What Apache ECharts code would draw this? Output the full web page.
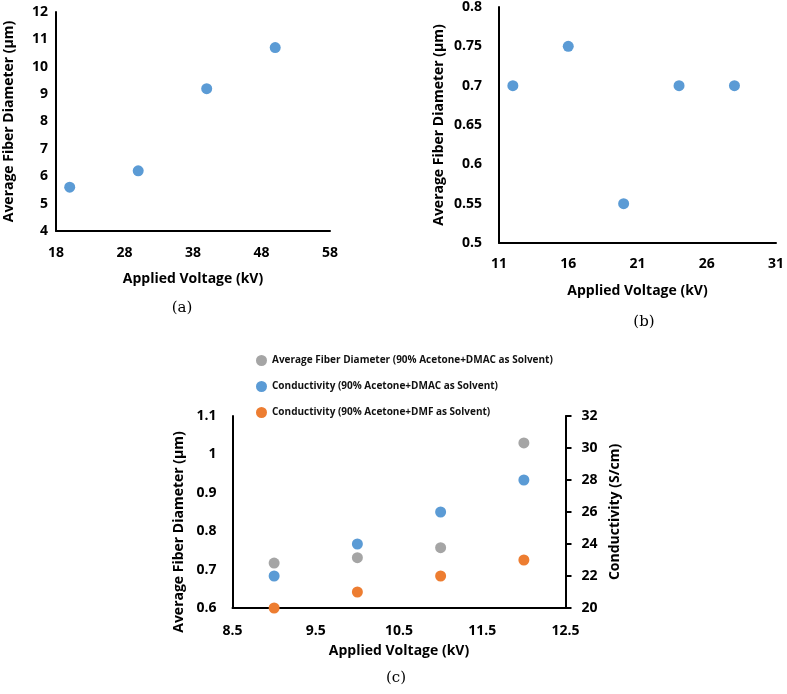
<!DOCTYPE html>
<html>
<head>
<meta charset="utf-8">
<script src="https://cdn.jsdelivr.net/npm/echarts@6/dist/echarts.min.js"></script>
<style>
html,body{margin:0;padding:0;background:#fff;}
#chart{width:787px;height:694px;}
</style>
</head>
<body>
<div id="chart"></div>
<script>
// ---- Data ----
// (a)
var voltageA = [20, 30, 40, 50];
var diameterA = [5.6, 6.2, 9.2, 10.7];
var xTicksA = [18, 28, 38, 48, 58];
// (b)
var voltageB = [12, 16, 20, 24, 28];
var diameterB = [0.7, 0.75, 0.55, 0.7, 0.7];
var xTicksB = [11, 16, 21, 26, 31];
var yTicksB = [0.5, 0.55, 0.6, 0.65, 0.7, 0.75, 0.8];
// (c)
var voltageC = [9, 10, 11, 12];
var diameterDMAC = [0.717, 0.731, 0.757, 1.03];
var conductDMAC = [22, 24, 26, 28];
var conductDMF = [20, 21, 22, 23];
var xTicksC = [8.5, 9.5, 10.5, 11.5, 12.5];
var yTicksCLeft = [0.6, 0.7, 0.8, 0.9, 1, 1.1];
var seriesNamesC = [
  'Average Fiber Diameter (90% Acetone+DMAC as Solvent)',
  'Conductivity (90% Acetone+DMAC as Solvent)',
  'Conductivity (90% Acetone+DMF as Solvent)'
];
var xTitle = 'Applied Voltage (kV)';
var yTitleDiam = 'Average Fiber Diameter (\u03bcm)';
var yTitleCond = 'Conductivity (S/cm)';

function pairs(xs, ys) { return xs.map(function (x, i) { return [x, ys[i]]; }); }

var FONT = '"Open Sans"';
var BLUE = '#5B9BD5', GRAY = '#A5A5A5', ORANGE = '#ED7D31';
var lineStyle = { color: '#000', width: 2 };
var lbl = { color: '#000', fontWeight: 'bold', fontSize: 14, fontFamily: FONT };
var nameStyle = { color: '#000', fontWeight: 'bold', fontSize: 14, fontFamily: FONT };

function fmt(v) { return String(Math.round(v * 1000) / 1000); }

var chart = echarts.init(document.getElementById('chart'));
chart.setOption({
  animation: false,
  backgroundColor: '#fff',
  grid: [
    { left: 56, top: 12, width: 274, height: 219 },
    { left: 499, top: 6, width: 278, height: 237 },
    { left: 232.5, top: 416, width: 333, height: 192 }
  ],
  legend: {
    data: seriesNamesC,
    orient: 'vertical',
    left: 251, top: 350,
    icon: 'circle',
    itemWidth: 11, itemHeight: 11,
    itemGap: 15,
    textStyle: { color: '#111', fontWeight: 'bold', fontSize: 10, fontFamily: FONT }
  },
  xAxis: [
    { gridIndex: 0, type: 'value', min: 18, max: 58,
      axisLine: { lineStyle: lineStyle }, axisTick: { show: false }, splitLine: { show: false },
      axisLabel: Object.assign({ margin: 15, customValues: xTicksA, formatter: fmt }, lbl),
      name: xTitle, nameLocation: 'middle', nameGap: 41, nameTextStyle: nameStyle },
    { gridIndex: 1, type: 'value', min: 11, max: 31,
      axisLine: { lineStyle: lineStyle }, axisTick: { show: false }, splitLine: { show: false },
      axisLabel: Object.assign({ margin: 14, customValues: xTicksB, formatter: fmt }, lbl),
      name: xTitle, nameLocation: 'middle', nameGap: 41, nameTextStyle: nameStyle },
    { gridIndex: 2, type: 'value', min: 8.5, max: 12.5,
      axisLine: { lineStyle: lineStyle }, axisTick: { show: false }, splitLine: { show: false },
      axisLabel: Object.assign({ margin: 16, customValues: xTicksC, formatter: fmt }, lbl),
      name: xTitle, nameLocation: 'middle', nameGap: 36, nameTextStyle: nameStyle }
  ],
  yAxis: [
    { gridIndex: 0, type: 'value', min: 4, max: 12, interval: 1,
      axisLine: { show: true, lineStyle: lineStyle }, axisTick: { show: false }, splitLine: { show: false },
      axisLabel: Object.assign({ margin: 8, formatter: fmt }, lbl),
      name: yTitleDiam, nameLocation: 'middle', nameGap: 40, nameTextStyle: nameStyle },
    { gridIndex: 1, type: 'value', min: 0.5, max: 0.8,
      axisLine: { show: true, lineStyle: lineStyle }, axisTick: { show: false }, splitLine: { show: false },
      axisLabel: Object.assign({ margin: 17, customValues: yTicksB, formatter: fmt }, lbl),
      name: yTitleDiam, nameLocation: 'middle', nameGap: 53, nameTextStyle: nameStyle },
    { gridIndex: 2, type: 'value', min: 0.6, max: 1.1, position: 'left',
      axisLine: { show: true, lineStyle: lineStyle }, axisTick: { show: false }, splitLine: { show: false },
      axisLabel: Object.assign({ margin: 16, customValues: yTicksCLeft, formatter: fmt }, lbl),
      name: yTitleDiam, nameLocation: 'middle', nameGap: 46,
      nameTextStyle: Object.assign({ padding: [0, 40, 0, 0] }, nameStyle) },
    { gridIndex: 2, type: 'value', min: 20, max: 32, interval: 2, position: 'right',
      axisLine: { show: true, lineStyle: lineStyle },
      axisTick: { show: true, inside: false, length: 6, lineStyle: { color: '#000', width: 2 } },
      splitLine: { show: false },
      axisLabel: Object.assign({ margin: 16, formatter: fmt }, lbl),
      name: yTitleCond, nameLocation: 'middle', nameGap: 43, nameTextStyle: nameStyle }
  ],
  series: [
    { type: 'scatter', xAxisIndex: 0, yAxisIndex: 0, data: pairs(voltageA, diameterA),
      symbolSize: 11, itemStyle: { color: BLUE, opacity: 1 }, clip: false },
    { type: 'scatter', xAxisIndex: 1, yAxisIndex: 1, data: pairs(voltageB, diameterB),
      symbolSize: 11, itemStyle: { color: BLUE, opacity: 1 }, clip: false },
    { type: 'scatter', name: seriesNamesC[0], xAxisIndex: 2, yAxisIndex: 2, data: pairs(voltageC, diameterDMAC),
      symbolSize: 11, itemStyle: { color: GRAY, opacity: 1 }, clip: false },
    { type: 'scatter', name: seriesNamesC[1], xAxisIndex: 2, yAxisIndex: 3, data: pairs(voltageC, conductDMAC),
      symbolSize: 11, itemStyle: { color: BLUE, opacity: 1 }, clip: false },
    { type: 'scatter', name: seriesNamesC[2], xAxisIndex: 2, yAxisIndex: 3, data: pairs(voltageC, conductDMF),
      symbolSize: 11, itemStyle: { color: ORANGE, opacity: 1 }, clip: false }
  ],
  graphic: [
    { type: 'text', x: 182, y: 308, style: { text: '(a)', align: 'center', verticalAlign: 'middle', fill: '#000', font: '15px "DejaVu Serif"' } },
    { type: 'text', x: 644, y: 322, style: { text: '(b)', align: 'center', verticalAlign: 'middle', fill: '#000', font: '15px "DejaVu Serif"' } },
    { type: 'text', x: 396, y: 678, style: { text: '(c)', align: 'center', verticalAlign: 'middle', fill: '#000', font: '15px "DejaVu Serif"' } }
  ]
});
</script>
</body>
</html>
